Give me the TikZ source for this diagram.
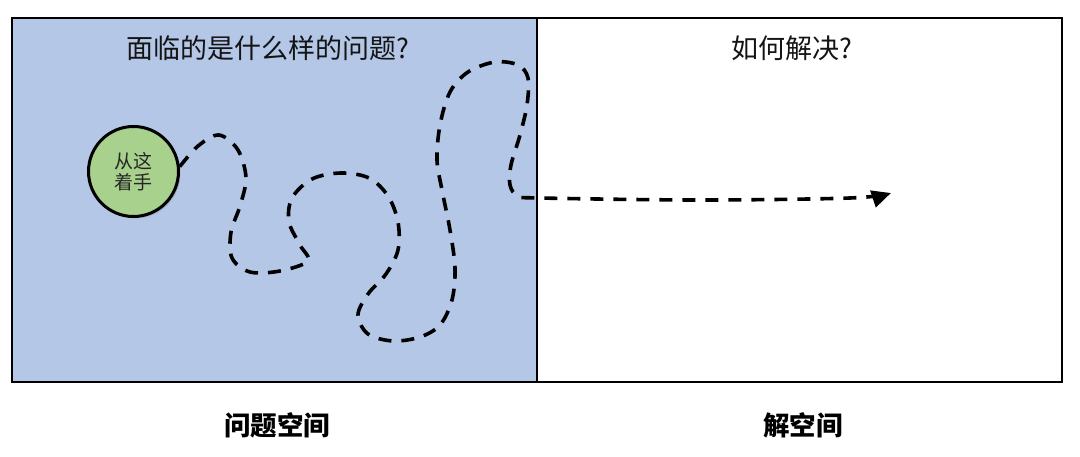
\documentclass[tikz,border=0pt]{standalone}
\usepackage{fontspec}
\setmainfont{Noto Sans CJK SC}
\usetikzlibrary{arrows.meta,shadows}
\definecolor{probblue}{HTML}{B4C7E7}
\definecolor{startgreen}{HTML}{A9D18E}
\tikzset{
  panel/.style={draw=black, line width=2.6pt, minimum height=364pt, inner sep=0pt},
  headtext/.style={font=\fontsize{27}{32}\selectfont, text=black!92},
  spacelabel/.style={font=\bfseries\fontsize{26.5}{30}\selectfont},
  startnode/.style={circle, draw=black, line width=3pt, fill=startgreen, minimum size=90pt,
    inner sep=0pt, align=center, font=\fontsize{19}{20.5}\selectfont, text=black!85,
    drop shadow={shadow xshift=2pt, shadow yshift=-2pt, opacity=0.3}},
  walk/.style={line width=3.6pt, dash pattern=on 13pt off 10pt, line cap=butt},
}
\begin{document}
\begin{tikzpicture}[x=1pt,y=-1pt]
\useasboundingbox[fill=white] (0,0) rectangle (1080,457);
% panels
\node[panel, fill=probblue, minimum width=525pt] (prob) at (274.5,200) {};
\node[panel, fill=white, minimum width=525pt] (sol) at (799.5,200) {};
% headings
\node[headtext] (q1) at (268,48) {面临的是什么样的问题?};
\node[headtext] (q2) at (792,48) {如何解决?};
\node[spacelabel] (l1) at (277,425) {问题空间};
\node[spacelabel] (l2) at (803,425) {解空间};
% start
\node[startnode] (start) at (133.5,171.5) {从这\\着手};
\coordinate (goal) at (891,193);
% wandering path
\draw[walk, -{Triangle[length=19pt,width=17pt]}] plot[smooth, tension=0.55] coordinates {
 (start.6) (198,146) (219,135) (238,150) (246,178) (240,206) (231,232) (232,258)
 (250,272) (280,271) (308,261) (300,245) (289,222) (292,198) (312,179) (341,173)
 (369,178) (388,196) (398,222) (398,250) (386,274) (368,294) (358,315) (368,334)
 (393,341) (420,337) (440,325) (452,300) (455,268) (450,230) (442,190) (437,160)
 (440,125) (450,92) (468,72) (495,62) (518,65) (528,78) (527,105) (520,135)
 (511,165) (510,185) (518,196) (540,198) (700,200) (850,198) (goal)};
\end{tikzpicture}
\end{document}
